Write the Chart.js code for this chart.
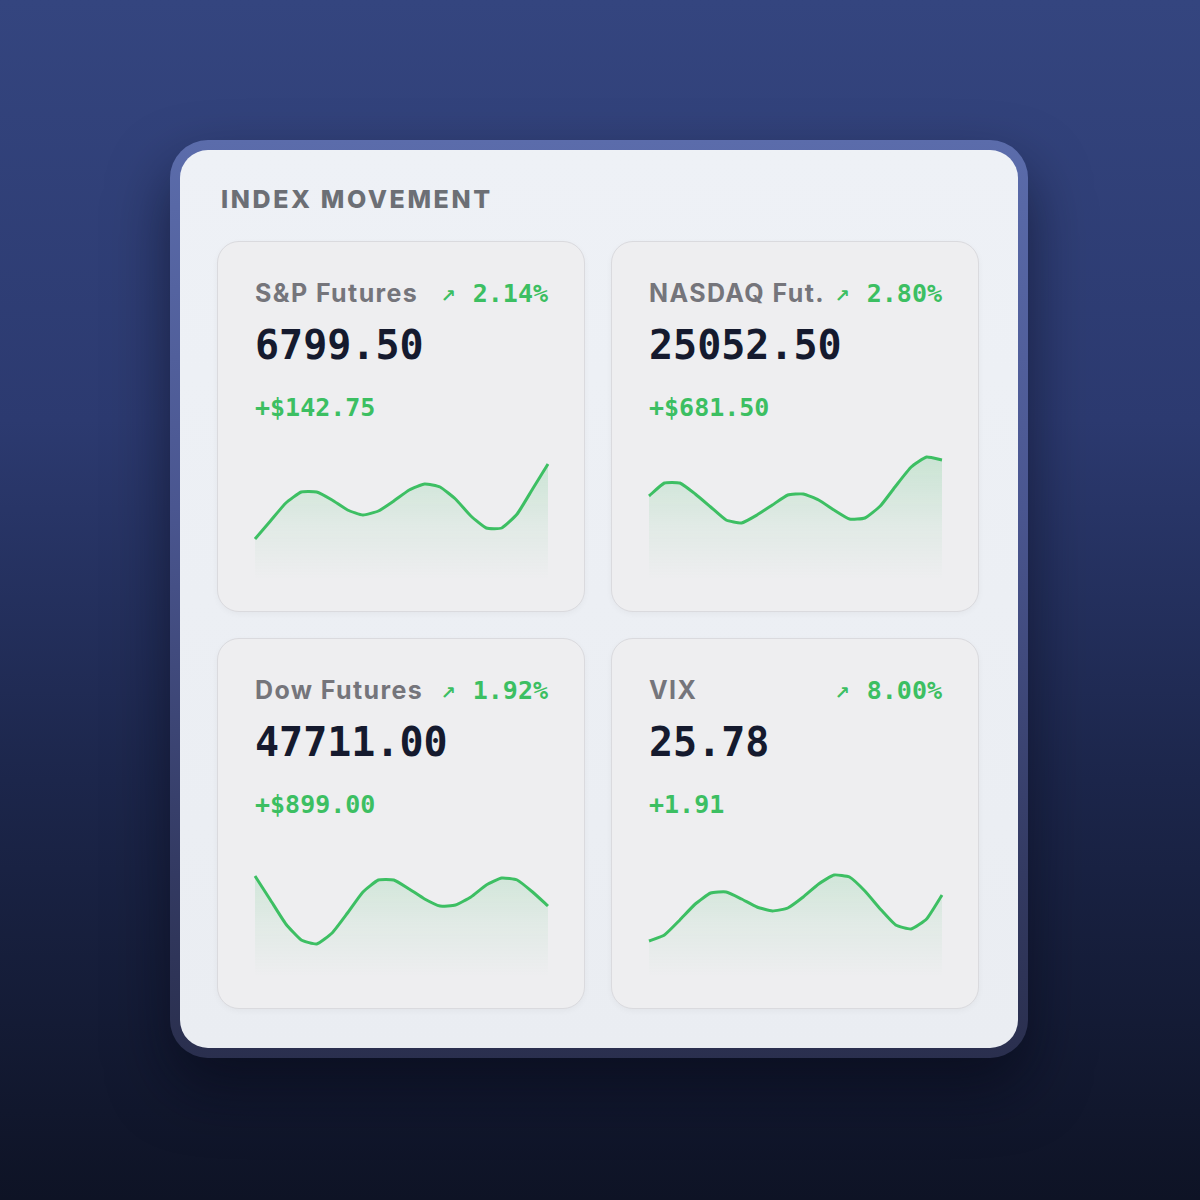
<!DOCTYPE html>
<html>
<head>
<meta charset="utf-8">
<script src="https://cdn.jsdelivr.net/npm/chart.js@4.4.1/dist/chart.umd.min.js"></script>
<style>
  html, body { margin: 0; padding: 0; }
  body {
    width: 1200px; height: 1200px; position: relative; overflow: hidden;
    background: linear-gradient(180deg, #34457f 0%, #2c3a70 35%, #1c264b 65%, #0e1325 100%);
    font-family: Inter, "Noto Sans", sans-serif;
  }
  .frame {
    position: absolute; left: 170px; top: 140px; width: 858px; height: 918px;
    box-sizing: border-box; padding: 10px; border-radius: 38px;
    background: linear-gradient(180deg, #5b6cab 0%, #4a5690 40%, #333a62 80%, #2a2f4e 100%);
    box-shadow: 0 30px 60px rgba(5, 8, 20, 0.55);
  }
  .panel {
    position: relative; width: 838px; height: 898px; border-radius: 28px;
    background: linear-gradient(180deg, #eef1f6 0%, #eaedf2 100%);
  }
  .heading {
    position: absolute; left: 41px; top: 37px;
    font-size: 25px; line-height: 25px; font-weight: 800; letter-spacing: 2.6px;
    color: #6c6f75;
  }
  .card {
    position: absolute; width: 368px; height: 371px; box-sizing: border-box;
    border-radius: 22px; background: #eeeef0; border: 1.5px solid #dadade;
    box-shadow: 0 2px 6px rgba(0,0,0,0.04);
  }
  .row {
    position: absolute; left: 37px; right: 36px; top: 39px;
    display: flex; justify-content: space-between; align-items: baseline;
  }
  .name { font-size: 25px; line-height: 25px; font-weight: 700; color: #75757b; letter-spacing: 1.4px; }
  .pct { font-family: "DejaVu Sans Mono", monospace; font-size: 25px; line-height: 25px; font-weight: bold; color: #3cbf62; }
  .arrow { font-family: "DejaVu Sans", sans-serif; font-size: 18px; margin-right: 17px; }
  .price {
    position: absolute; left: 37px; top: 83px;
    font-family: "DejaVu Sans Mono", monospace; font-size: 40px; line-height: 40px; font-weight: bold;
    color: #151a2e;
  }
  .delta {
    position: absolute; left: 37px; top: 153px;
    font-family: "DejaVu Sans Mono", monospace; font-size: 25px; line-height: 25px; font-weight: bold;
    color: #3cbf62;
  }
  .spark { position: absolute; left: 34px; top: 205px; width: 299px; height: 132px; }
</style>
</head>
<body>
<div class="frame">
  <div class="panel" id="panel">
    <div class="heading">INDEX MOVEMENT</div>
  </div>
</div>
<script>
// card texts
const names = ["S&P Futures", "NASDAQ Fut.", "Dow Futures", "VIX"];
const prices = ["6799.50", "25052.50", "47711.00", "25.78"];
const changes = ["+$142.75", "+$681.50", "+$899.00", "+1.91"];
const percents = ["2.14%", "2.80%", "1.92%", "8.00%"];

// sparkline series (relative level)
const spLine = [40, 58, 76, 87, 87, 79, 69, 64, 68, 78, 89, 95, 92, 80, 63, 51, 51, 65, 90, 115];
const nqLine = [83, 96, 96, 85, 72, 59, 56, 64, 74, 84, 85, 79, 69, 60, 61, 73, 93, 112, 122, 119];
const dowLine = [100, 76, 52, 36, 32, 43, 63, 84, 96, 96, 87, 77, 70, 71, 79, 91, 98, 96, 84, 70];
const vixLine = [35, 41, 56, 72, 83, 84, 77, 69, 65, 68, 79, 92, 101, 99, 85, 67, 51, 47, 57, 81];
const steps = ["1","2","3","4","5","6","7","8","9","10","11","12","13","14","15","16","17","18","19","20"];

const series = [spLine, nqLine, dowLine, vixLine];
const spots = [[37, 91], [431, 91], [37, 488], [431, 488]];

const panel = document.getElementById("panel");

series.forEach((vals, i) => {
    const card = document.createElement("div");
    card.className = "card";
    card.style.left = spots[i][0] + "px";
    card.style.top = spots[i][1] + "px";
    card.innerHTML =
        '<div class="row"><span class="name"></span><span class="pct"><span class="arrow">↗</span><span class="pv"></span></span></div>' +
        '<div class="price"></div><div class="delta"></div>' +
        '<div class="spark"><canvas width="299" height="132"></canvas></div>';
    card.querySelector(".name").textContent = names[i];
    card.querySelector(".pv").textContent = percents[i];
    card.querySelector(".price").textContent = prices[i];
    card.querySelector(".delta").textContent = changes[i];
    panel.appendChild(card);

    const cv = card.querySelector("canvas");
    new Chart(cv, {
        type: "line",
        data: {
            labels: steps,
            datasets: [{
                data: vals,
                borderColor: "#3dbf63",
                borderWidth: 3,
                tension: 0.15,
                pointRadius: 0,
                fill: "start",
                backgroundColor: (ctx) => {
                    const area = ctx.chart.chartArea;
                    if (!area) return "rgba(60,190,100,0.1)";
                    const g = ctx.chart.ctx.createLinearGradient(0, area.top, 0, area.bottom);
                    g.addColorStop(0, "rgba(60,190,100,0.22)");
                    g.addColorStop(0.6, "rgba(60,190,100,0.07)");
                    g.addColorStop(1, "rgba(60,190,100,0.0)");
                    return g;
                }
            }]
        },
        options: {
            responsive: false,
            animation: false,
            layout: { padding: { left: 3, right: 3, top: 0, bottom: 0 } },
            plugins: { legend: { display: false }, tooltip: { enabled: false } },
            scales: {
                x: { display: false },
                y: { display: false, min: 0, max: 132 }
            }
        }
    });
});
</script>
</body>
</html>
